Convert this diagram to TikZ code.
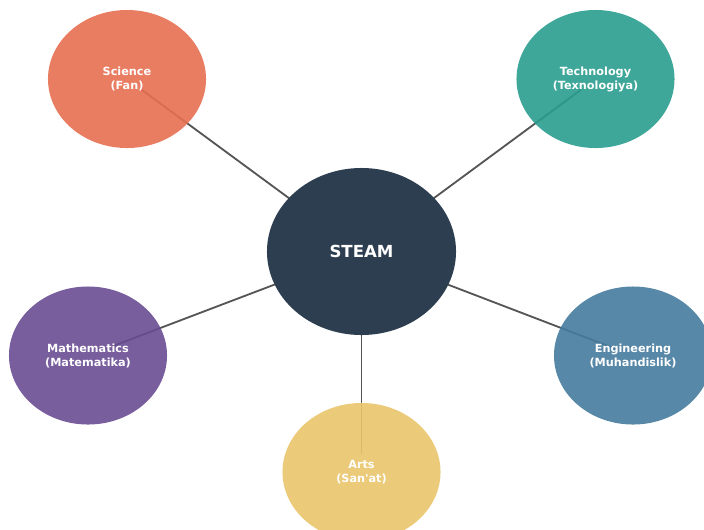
\documentclass[tikz,border=0pt]{standalone}
\usepackage{fontspec}
\setmainfont{DejaVu Sans}
\usetikzlibrary{shapes.geometric,backgrounds}
\definecolor{steamblue}{HTML}{2C3E50}
\definecolor{scicol}{HTML}{E76F51}
\definecolor{techcol}{HTML}{2A9D8F}
\definecolor{engcol}{HTML}{457B9D}
\definecolor{artcol}{HTML}{E9C46A}
\definecolor{mathcol}{HTML}{6A4C93}
\definecolor{linkgray}{HTML}{555555}

\begin{document}
\begin{tikzpicture}[x=0.025cm,y=-0.025cm,
    field/.style={ellipse,fill opacity=0.9,text opacity=1,minimum width=3.95cm,minimum height=3.45cm,
        inner sep=0pt,align=center,text=white,font=\fontsize{8}{10}\selectfont\bfseries},
    link/.style={linkgray,line width=1.3pt,shorten >=0.45cm}]
            \useasboundingbox (0,0) rectangle (704,529);
            \clip (0,0) rectangle (704,529);
            \node[ellipse,fill=steamblue,minimum width=4.725cm,minimum height=4.175cm,text=white,
                font=\fontsize{11.8}{14}\selectfont\bfseries] (steam) at (361.5,251.5){STEAM};
            \node[field,fill=scicol] (sci) at (127,79){Science\\(Fan)};
            \node[field,fill=techcol] (tech) at (595.5,79){Technology\\(Texnologiya)};
            \node[field,fill=mathcol] (math) at (88,355.5){Mathematics\\(Matematika)};
            \node[field,fill=engcol] (eng) at (633,355.5){Engineering\\(Muhandislik)};
            \node[field,fill=artcol] (art) at (361.5,472){Arts\\(San\textquotesingle at)};
            \begin{scope}[on background layer]
                \draw[link] (steam.center) -- (sci.center);
                \draw[link] (steam.center) -- (tech.center);
                \draw[link] (steam.center) -- (math.center);
                \draw[link] (steam.center) -- (eng.center);
                \draw[link] (steam.center) -- (art.center);
            \end{scope}
        \end{tikzpicture}
\end{document}
